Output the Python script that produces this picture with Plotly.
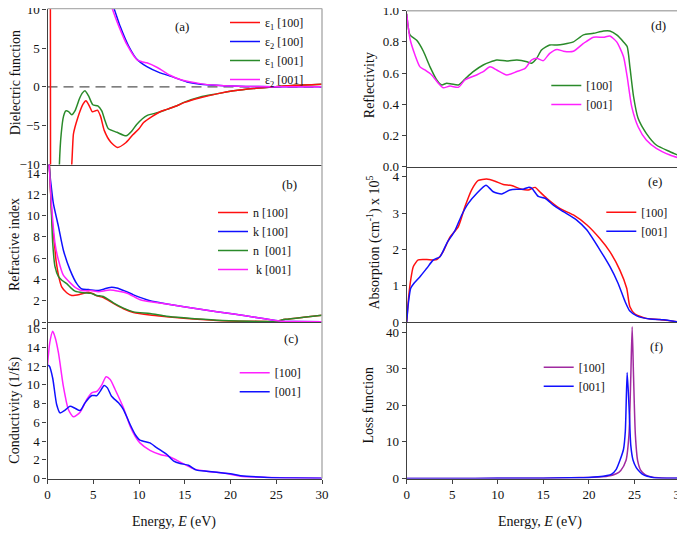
import plotly.graph_objects as go

# ---------------- data ----------------
E_MIN, E_MAX = 0, 30
energy_ticks = [0, 5, 10, 15, 20, 25, 30]

# (a) dielectric function
eps1_100_E = [0.05, 0.2, 0.3, 0.34, 0.4, 0.8, 1.5, 2.2, 2.65, 2.83, 3.0, 3.3, 3.56, 3.9, 4.2, 4.55, 4.9, 5.2, 5.45, 5.8, 6.2, 6.9, 7.65, 8.55, 9.3, 10.0, 10.5, 11.45, 12.3, 13.05, 14.0, 15.0, 16.7, 18.5, 20.35, 22.5, 24.7, 27.0, 30.0]
eps1_100_v = [300, 80, 25, -20, -80, -60, -30, -16, -10, -6.1, -5.2, -4.0, -3.1, -2.2, -1.8, -2.4, -3.2, -3.1, -3.0, -3.8, -5.6, -7.1, -7.8, -7.2, -6.2, -5.4, -4.6, -3.8, -3.2, -2.9, -2.5, -2.0, -1.4, -0.9, -0.5, -0.2, 0.0, 0.2, 0.35]
eps2_100_E = [0.05, 0.5, 1, 2, 3, 4, 5, 6, 6.8, 7.3, 7.94, 8.85, 9.77, 10.86, 12.3, 13.4, 15.25, 17.4, 20.3, 23, 26, 30]
eps2_100_v = [400, 150, 90, 55, 38, 28, 20, 14.5, 11.5, 10, 7.8, 5.3, 3.55, 2.6, 1.8, 1.4, 0.64, 0.26, 0.1, 0.04, 0.02, 0.01]
eps1_001_E = [0.3, 1.0, 1.3, 1.5, 1.75, 2.0, 2.3, 2.65, 3.0, 3.5, 3.8, 4.1, 4.5, 4.95, 5.5, 5.93, 6.3, 6.66, 7.58, 8.6, 9.2, 9.77, 10.86, 12.1, 13.05, 14.0, 14.9, 16.7, 18.5, 20.35, 22.5, 24.7, 27.0, 30.0]
eps1_001_v = [-100, -40, -10, -6.0, -3.8, -3.1, -3.2, -3.6, -3.1, -1.5, -0.8, -0.5, -1.2, -2.3, -2.45, -3.1, -4.4, -5.4, -5.85, -6.3, -5.7, -4.8, -3.7, -3.3, -2.9, -2.5, -2.0, -1.3, -0.9, -0.5, -0.2, 0.0, 0.2, 0.35]
eps2_001_E = [0.05, 0.5, 1, 2, 3, 4, 5, 6, 6.7, 7.1, 7.8, 8.7, 9.77, 10.3, 10.86, 12.0, 13.4, 14.5, 16.7, 18.5, 20.3, 23, 26, 30]
eps2_001_v = [400, 150, 90, 55, 38, 28, 20, 14.5, 11.5, 10, 7.8, 5.4, 3.5, 3.25, 3.1, 2.5, 1.5, 0.94, 0.42, 0.2, 0.1, 0.04, 0.02, 0.01]

# (b) refractive index
n_100_E = [0.0, 0.2, 0.5, 0.8, 0.93, 1.3, 1.55, 2.1, 2.65, 3.55, 4.47, 5.0, 5.4, 6.1, 7.2, 8.3, 9.4, 11.2, 13.0, 14.9, 18.5, 22.0, 24.0, 24.7, 26.0, 28.0, 30.0]
n_100_v = [18, 14.8, 9.5, 7.0, 5.8, 4.0, 3.3, 2.75, 2.5, 2.6, 2.8, 2.65, 2.45, 2.3, 1.75, 1.25, 0.9, 0.66, 0.5, 0.35, 0.15, 0.07, 0.05, 0.02, 0.25, 0.45, 0.63]
k_100_E = [0.0, 0.2, 0.4, 0.64, 1.2, 1.73, 2.46, 3.2, 3.75, 4.47, 5.56, 6.2, 6.85, 7.57, 8.5, 9.4, 11.2, 13.05, 16.7, 20.35, 23.0, 24.55, 25.5, 27.0, 30.0]
k_100_v = [18, 14.5, 12.8, 11.15, 8.96, 6.77, 4.9, 3.6, 3.1, 3.05, 2.95, 3.1, 3.25, 3.2, 2.9, 2.55, 2.0, 1.7, 1.19, 0.75, 0.4, 0.19, 0.08, 0.04, 0.02]
n_001_E = [0.0, 0.2, 0.35, 0.57, 0.82, 1.2, 1.6, 2.1, 2.5, 3.0, 3.9, 4.7, 5.4, 6.1, 7.2, 8.3, 9.4, 11.2, 13.0, 14.9, 18.5, 22.0, 24.0, 24.7, 26.0, 28.0, 30.0]
n_001_v = [18, 14.8, 12.1, 7.4, 5.2, 4.26, 3.9, 3.6, 3.25, 2.9, 2.75, 2.7, 2.5, 2.4, 1.8, 1.3, 0.95, 0.8, 0.55, 0.4, 0.17, 0.07, 0.04, 0.02, 0.25, 0.45, 0.63]
k_001_E = [0.0, 0.2, 0.4, 0.82, 1.2, 1.73, 2.46, 3.2, 3.75, 4.7, 5.56, 6.85, 8.7, 10.2, 13.05, 16.7, 20.35, 23.0, 24.55, 25.5, 27.0, 30.0]
k_001_v = [18, 14.5, 11.5, 7.4, 5.8, 4.4, 3.7, 3.15, 2.95, 2.95, 2.85, 3.0, 2.7, 2.07, 1.7, 1.19, 0.75, 0.4, 0.19, 0.08, 0.04, 0.02]

# (c) conductivity
sig_100_E = [0, 0.25, 0.57, 0.85, 1.2, 1.73, 2.28, 2.83, 3.56, 4.29, 4.84, 5.39, 5.94, 6.4, 6.85, 7.39, 8.3, 9.03, 9.58, 10.1, 11.2, 12.3, 13.4, 14.5, 15.97, 17.4, 19.6, 21.1, 24.0, 27.0, 30.0]
sig_100_v = [12.1, 14.5, 15.7, 15.0, 13.4, 9.85, 7.36, 6.58, 7.07, 8.43, 9.14, 9.3, 10.0, 10.85, 10.56, 9.5, 7.54, 5.58, 4.5, 3.8, 3.0, 2.56, 2.3, 1.75, 1.03, 0.78, 0.53, 0.25, 0.12, 0.05, 0.02]
sig_001_E = [0, 0.2, 0.57, 1.0, 1.37, 1.92, 2.46, 3.0, 3.56, 4.1, 4.84, 5.4, 5.75, 6.19, 6.55, 7.0, 7.76, 8.3, 9.03, 9.58, 10.1, 11.2, 11.96, 13.05, 13.8, 14.5, 15.4, 16.3, 17.4, 18.5, 20.0, 21.1, 24.0, 27.0, 30.0]
sig_001_v = [12.1, 12.0, 10.7, 7.9, 7.0, 7.3, 7.7, 7.5, 7.25, 8.07, 8.85, 8.85, 9.3, 9.92, 9.67, 8.78, 8.07, 7.36, 5.76, 4.7, 4.1, 3.8, 3.27, 2.56, 1.85, 1.6, 1.42, 0.89, 0.78, 0.68, 0.5, 0.3, 0.12, 0.05, 0.02]

# (d) reflectivity
R_100_E = [0, 0.36, 1.1, 1.83, 2.56, 3.3, 3.84, 4.39, 4.94, 5.67, 6.4, 7.3, 8.4, 9.88, 10.98, 12.1, 13.2, 13.7, 14.27, 14.8, 15.7, 16.5, 17.2, 18.3, 19.4, 20.5, 21.6, 22.3, 23.05, 23.8, 24.2, 24.5, 24.9, 25.4, 26.3, 27.4, 28.9, 30.0]
R_100_v = [0.98, 0.845, 0.81, 0.74, 0.64, 0.556, 0.524, 0.535, 0.53, 0.524, 0.562, 0.609, 0.652, 0.684, 0.678, 0.684, 0.673, 0.663, 0.695, 0.748, 0.78, 0.78, 0.785, 0.80, 0.845, 0.855, 0.87, 0.87, 0.845, 0.80, 0.77, 0.64, 0.45, 0.31, 0.214, 0.139, 0.096, 0.068]
R_001_E = [0, 0.36, 0.91, 1.46, 2.0, 2.74, 3.47, 4.0, 4.75, 5.67, 6.4, 7.66, 8.4, 9.15, 9.88, 10.98, 12.1, 13.0, 13.7, 14.27, 15.0, 15.7, 16.5, 17.2, 18.3, 19.4, 20.5, 21.6, 22.3, 23.05, 23.8, 24.2, 24.7, 25.4, 26.3, 27.4, 28.9, 30.0]
R_001_v = [0.98, 0.82, 0.716, 0.64, 0.62, 0.588, 0.535, 0.506, 0.517, 0.509, 0.556, 0.588, 0.609, 0.64, 0.62, 0.588, 0.61, 0.63, 0.684, 0.695, 0.68, 0.727, 0.752, 0.74, 0.74, 0.79, 0.83, 0.83, 0.838, 0.80, 0.705, 0.577, 0.385, 0.256, 0.171, 0.118, 0.075, 0.054]

# (e) absorption (x 10^5 cm^-1)
A_100_E = [0, 0.18, 0.44, 0.73, 1.27, 2.2, 3.3, 4.0, 4.75, 5.67, 6.4, 7.13, 7.86, 8.78, 9.7, 10.6, 11.5, 12.6, 13.35, 14.1, 14.6, 15.37, 16.8, 18.3, 19.76, 21.2, 22.3, 23.4, 24.15, 24.5, 25.06, 26.3, 27.8, 29.3, 30.0]
A_100_v = [0, 0.6, 1.16, 1.53, 1.71, 1.72, 1.72, 1.94, 2.34, 2.63, 3.18, 3.64, 3.9, 3.94, 3.88, 3.79, 3.76, 3.66, 3.64, 3.71, 3.59, 3.41, 3.13, 2.95, 2.68, 2.3, 1.94, 1.43, 0.93, 0.42, 0.22, 0.1, 0.07, 0.02, 0.0]
A_001_E = [0, 0.18, 0.44, 0.8, 1.46, 2.2, 2.93, 3.66, 4.4, 5.3, 6.04, 6.76, 7.68, 8.7, 9.5, 10.43, 11.34, 12.07, 12.8, 13.35, 13.72, 14.45, 15.2, 16.1, 17.2, 18.66, 19.76, 21.2, 22.3, 23.2, 23.96, 24.5, 25.25, 26.7, 28.2, 29.3, 30.0]
A_001_v = [0, 0.51, 0.93, 1.07, 1.25, 1.48, 1.71, 1.8, 2.17, 2.52, 2.95, 3.27, 3.54, 3.77, 3.59, 3.53, 3.64, 3.66, 3.66, 3.71, 3.69, 3.46, 3.41, 3.22, 3.04, 2.81, 2.54, 1.99, 1.53, 1.07, 0.57, 0.3, 0.17, 0.08, 0.06, 0.02, 0.0]

# (f) loss function
L_100_E = [0, 5, 10, 15, 18, 20, 21, 22, 23, 23.5, 24.07, 24.4, 24.6, 24.75, 24.9, 25.1, 25.35, 25.7, 26.2, 27, 28, 30]
L_100_v = [0.0, 0.02, 0.05, 0.1, 0.2, 0.3, 0.4, 0.6, 1.3, 2.2, 4.9, 12, 28, 41.5, 28, 12, 4.9, 2.2, 1.0, 0.35, 0.15, 0.05]
L_001_E = [0, 5, 10, 15, 18, 20, 21, 22, 22.5, 23, 23.4, 23.8, 24.0, 24.2, 24.4, 24.6, 24.85, 25.2, 25.6, 26, 27, 28, 30]
L_001_v = [0.0, 0.02, 0.05, 0.1, 0.2, 0.3, 0.45, 0.8, 1.2, 2.5, 4.9, 8, 13, 29, 20, 9, 5, 3, 1.8, 1.0, 0.3, 0.1, 0.05]

# ---------------- style ----------------
FONT = "Liberation Serif, Times New Roman, serif"
RED, BLUE, GREEN, MAG, PURP = "#FF1010", "#1010FF", "#2A8A2A", "#FF20FF", "#A02AA0"
AX = "#404040"
FRAME = "#B0B0B0"
PAGE_OFFSET = 8          # default body margin of the html page
W, H = 685 - PAGE_OFFSET, 533 - PAGE_OFFSET

def px2x(p):
    return min(1.0, max(0.0, (p - PAGE_OFFSET) / W))

def px2y(p):
    return min(1.0, max(0.0, 1 - (p - PAGE_OFFSET) / H))

LEFT_DOM = [px2x(47.5), px2x(322)]
RIGHT_DOM = [px2x(406.7), px2x(680)]

fig = go.Figure()

def add(E, v, name, color, ax, leg):
    xa = "x" if ax == 1 else f"x{ax}"
    ya = "y" if ax == 1 else f"y{ax}"
    fig.add_trace(go.Scatter(x=E, y=v, mode="lines", name=name, xaxis=xa, yaxis=ya,
                             line=dict(color=color, width=1.5, shape="spline", smoothing=0.6),
                             legend=leg, showlegend=True))

add(eps1_001_E, eps1_001_v, "ε<sub>1</sub> [001]", GREEN, 1, "legend")
add(eps1_100_E, eps1_100_v, "ε<sub>1</sub> [100]", RED, 1, "legend")
add(eps2_100_E, eps2_100_v, "ε<sub>2</sub> [100]", BLUE, 1, "legend")
add(eps2_001_E, eps2_001_v, "ε<sub>2</sub> [001]", MAG, 1, "legend")
for tr, rank in zip(fig.data, [3, 1, 2, 4]):
    tr.legendrank = rank

add(n_100_E, n_100_v, "n [100]", RED, 2, "legend2")
add(k_100_E, k_100_v, "k [100]", BLUE, 2, "legend2")
add(n_001_E, n_001_v, "n  [001]", GREEN, 2, "legend2")
add(k_001_E, k_001_v, " k [001]", MAG, 2, "legend2")

add(sig_100_E, sig_100_v, "[100]", MAG, 3, "legend3")
add(sig_001_E, sig_001_v, "[001]", BLUE, 3, "legend3")

add(R_100_E, R_100_v, "[100]", GREEN, 4, "legend4")
add(R_001_E, R_001_v, "[001]", MAG, 4, "legend4")

add(A_100_E, A_100_v, "[100]", RED, 5, "legend5")
add(A_001_E, A_001_v, "[001]", BLUE, 5, "legend5")

add(L_100_E, L_100_v, "[100]", PURP, 6, "legend6")
add(L_001_E, L_001_v, "[001]", BLUE, 6, "legend6")

tickfont = dict(family=FONT, size=13, color="#111")

def xax(dom, anchor, labels):
    return dict(domain=dom, anchor=anchor, range=[E_MIN, E_MAX], showgrid=False, zeroline=False,
                showline=True, linecolor=AX, linewidth=1.2, automargin=False,
                ticklabeloverflow="allow",
                tickvals=energy_ticks if labels else [], ticks="outside" if labels else "",
                ticklen=4, tickcolor=AX, showticklabels=labels, tickfont=tickfont)

def yax(dom, anchor, rng, dtick, fmt=None):
    d = dict(domain=dom, anchor=anchor, range=rng, dtick=dtick, tick0=0, showgrid=False,
             zeroline=False, showline=True, linecolor=AX, linewidth=1.2, ticks="outside",
             ticklen=4, tickcolor=AX, tickfont=tickfont, automargin=False,
             ticklabeloverflow="allow")
    if fmt:
        d["tickformat"] = fmt
    return d

yA = [px2y(164.5), px2y(8.5)]
yB = [px2y(322), px2y(164.5)]
yC = [px2y(478.5), px2y(322)]
yD = [px2y(166.7), px2y(10.7)]
yE = [px2y(322), px2y(166.7)]
yF = [px2y(478.5), px2y(322)]

def legend(text_x, first_center, lift=15, font_size=12):
    return dict(x=px2x(text_x - 42), y=px2y(first_center - lift), xanchor="left", yanchor="top",
                bgcolor="rgba(0,0,0,0)", borderwidth=0, tracegroupgap=0,
                font=dict(family=FONT, size=font_size, color="#111"))

fig.update_layout(
    width=W, height=H, autosize=False,
    margin=dict(l=0, r=0, t=0, b=0, autoexpand=False),
    paper_bgcolor="white", plot_bgcolor="white",
    font=dict(family=FONT, color="#111"),
    xaxis=xax(LEFT_DOM, "y", False), yaxis=yax(yA, "x", [-10, 10.1], 5),
    xaxis2=xax(LEFT_DOM, "y2", False), yaxis2=yax(yB, "x2", [0, 14.8], 2),
    xaxis3=xax(LEFT_DOM, "y3", True), yaxis3=yax(yC, "x3", [0, 16.7], 2),
    xaxis4=xax(RIGHT_DOM, "y4", False), yaxis4=yax(yD, "x4", [0, 1.0], 0.2, ".1f"),
    xaxis5=xax(RIGHT_DOM, "y5", False), yaxis5=yax(yE, "x5", [0, 4.28], 1),
    xaxis6=xax(RIGHT_DOM, "y6", True), yaxis6=yax(yF, "x6", [0, 42.8], 10),
    legend=legend(267, 16.7, lift=25),
    legend2=legend(255, 215, lift=17),
    legend3=legend(276.7, 373.3),
    legend4=legend(588.3, 86),
    legend5=legend(643.3, 212.7),
    legend6=legend(580.7, 367.7),
)

# frame lines (top / right in light gray) and the zero reference in (a)
shapes = []
for i in range(1, 7):
    xs = "x" if i == 1 else f"x{i}"
    ys = "y" if i == 1 else f"y{i}"
    shapes.append(dict(type="line", xref=f"{xs} domain", yref=f"{ys} domain", x0=1, x1=1, y0=0, y1=1,
                       line=dict(color=FRAME, width=1.5), layer="above"))
for xs, ys in [("x", "y"), ("x4", "y4")]:
    shapes.append(dict(type="line", xref=f"{xs} domain", yref=f"{ys} domain", x0=0, x1=1, y0=1, y1=1,
                       line=dict(color=FRAME, width=1.5), layer="above"))
shapes.append(dict(type="line", xref="x domain", yref="y", x0=0, x1=1, y0=0, y1=0,
                   line=dict(color="#555", width=1.1, dash="10px,6px"), layer="below"))
fig.update_layout(shapes=shapes)

ann = []
labfont = dict(family=FONT, size=13, color="#111")
for txt, xs, ys, xv, yv in [("(a)", "x", "y", 14.7, 7.8), ("(b)", "x2", "y2", 26.4, 12.9),
                            ("(c)", "x3", "y3", 26.6, 14.9), ("(d)", "x4", "y4", 27.6, 0.904),
                            ("(e)", "x5", "y5", 27.3, 3.87), ("(f)", "x6", "y6", 27.4, 36.2)]:
    ann.append(dict(text=txt, xref=xs, yref=ys, x=xv, y=yv, showarrow=False, font=labfont))

titlefont = dict(family=FONT, size=14, color="#111")
for txt, xp, yp in [("Dielectric function", 15, 83.3), ("Refractive index", 15, 245),
                    ("Conductivity (1/fs)", 15, 410.7), ("Reflectivity", 369.2, 85),
                    ("Absorption (cm<sup>-1</sup>) x 10<sup>5</sup>", 374, 242.5),
                    ("Loss function", 367.5, 405)]:
    ann.append(dict(text=txt, xref="paper", yref="paper", x=px2x(xp), y=px2y(yp), textangle=-90,
                    showarrow=False, font=titlefont, xanchor="center", yanchor="middle"))
for xp in [174.2, 540]:
    ann.append(dict(text="Energy, <i>E</i> (eV)", xref="paper", yref="paper", x=px2x(xp), y=px2y(522),
                    showarrow=False, font=titlefont, xanchor="center", yanchor="middle"))
fig.update_layout(annotations=ann)

fig.write_html("out.html")
